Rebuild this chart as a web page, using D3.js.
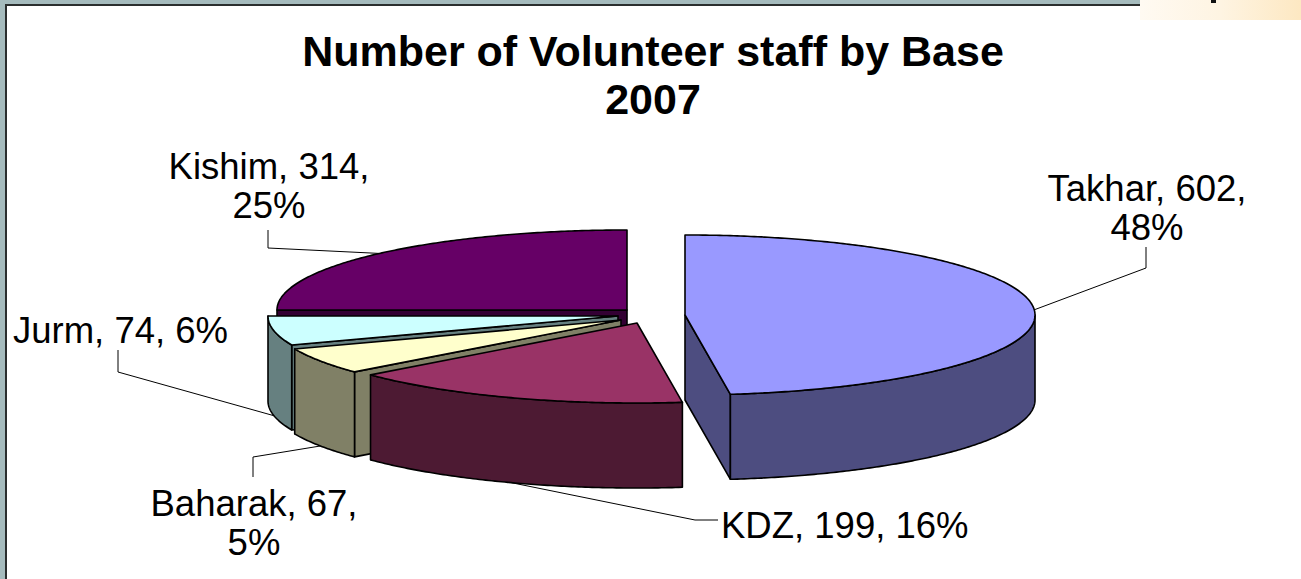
<!DOCTYPE html>
<html><head><meta charset="utf-8">
<script src="https://cdn.jsdelivr.net/npm/d3@7/dist/d3.min.js"></script>
<style>html,body{margin:0;padding:0;background:#fff;overflow:hidden}svg{display:block}text{font-family:"Liberation Sans",Arial,sans-serif;fill:#000}</style>
</head><body><svg id="c" width="1301" height="579"></svg>
<script>
const categories=["Takhar","KDZ","Baharak","Jurm","Kishim"];
const values=[602,199,67,74,314];
const percents=[48,16,5,6,25];
const topColors=["#9999FF","#993366","#FFFFCC","#CCFFFF","#660066"];
const wallColors=["#4D4D80","#4D1A33","#808066","#668080","#330033"];
const titleLines=["Number of Volunteer staff by Base","2007"];

// layout
const rx=350, ry=80, depth=85;
const centers=[[685,315],[637,323],[621,320],[618,316],[627,310]];
const labelLines=[
  [`${categories[0]}, ${values[0]},`,`${percents[0]}%`],
  [`${categories[1]}, ${values[1]}, ${percents[1]}%`],
  [`${categories[2]}, ${values[2]},`,`${percents[2]}%`],
  [`${categories[3]}, ${values[3]}, ${percents[3]}%`],
  [`${categories[4]}, ${values[4]},`,`${percents[4]}%`]];
const labelPos=[[1147,201,"middle"],[721,538,"start"],[254,516,"middle"],[13,343,"start"],[269,179,"middle"]];
const elbows=[[[1146,268],[1146,247]],[[695,520],[718,520]],[[253,457],[253,477]],[[118,372],[118,350]],[[268,248],[268,230]]];
const leaderOnWall=[false,true,true,true,false];

const svg=d3.select("#c");
const defs=svg.append("defs");
const g=defs.append("linearGradient").attr("id","patch");
g.append("stop").attr("offset","0").attr("stop-color","#FFFAF2");
g.append("stop").attr("offset","0.5").attr("stop-color","#FEF4E2");
g.append("stop").attr("offset","1").attr("stop-color","#FDE8C2");

// frame
svg.append("rect").attr("width",1140).attr("height",4).attr("fill","#A5BBBD");
svg.append("rect").attr("width",5).attr("height",579).attr("fill","#A5BBBD");
svg.append("rect").attr("x",5).attr("y",4).attr("width",1135).attr("height",2).attr("fill","#2A2E2E");
svg.append("rect").attr("x",5).attr("y",4).attr("width",2).attr("height",575).attr("fill","#2A2E2E");
svg.append("rect").attr("x",1140).attr("width",161).attr("height",20).attr("fill","url(#patch)");
svg.append("rect").attr("x",1211).attr("width",5).attr("height",3).attr("fill","#111");

const pie=d3.pie().sort(null).value(d=>d).startAngle(0).endAngle(2*Math.PI);
const arcs=pie(values);
const project=(i,a,dz=0)=>[centers[i][0]+rx*Math.sin(a),centers[i][1]-ry*Math.cos(a)+dz];
const line=d3.line();
const sample=(a0,a1)=>{const n=Math.max(2,Math.ceil(Math.abs(a1-a0)/0.01));return d3.range(n+1).map(k=>a0+(a1-a0)*k/n);};
const halfPi=Math.PI/2;

const plot=svg.append("g").attr("stroke","#000").attr("stroke-width",1.6).attr("stroke-linejoin","round");
d3.range(arcs.length-1,-1,-1).forEach(i=>{
  const a=arcs[i], c=centers[i];
  const faces=[];
  if(Math.sin(a.startAngle)<0) faces.push(a.startAngle);
  if(Math.sin(a.endAngle)>0) faces.push(a.endAngle);
  faces.forEach(t=>{
    plot.append("path").attr("fill",wallColors[i]).attr("d",line([
      c,project(i,t),project(i,t,depth),[c[0],c[1]+depth]])+"Z");
  });
  const w0=Math.max(a.startAngle,halfPi), w1=Math.min(a.endAngle,3*halfPi);
  if(w1>w0){
    const top=sample(w0,w1).map(t=>project(i,t));
    const bot=sample(w1,w0).map(t=>project(i,t,depth));
    plot.append("path").attr("fill",wallColors[i]).attr("d",line(top.concat(bot))+"Z");
  }
  plot.append("path").attr("fill",topColors[i]).attr("d",line([c].concat(sample(a.startAngle,a.endAngle).map(t=>project(i,t))))+"Z");
});

// leaders
arcs.forEach((a,i)=>{
  const mid=(a.startAngle+a.endAngle)/2;
  const p=project(i,mid,leaderOnWall[i]?depth:0);
  svg.append("path").attr("fill","none").attr("stroke","#000").attr("stroke-width",1)
    .attr("d",line([p].concat(elbows[i])));
});

// title
svg.append("text").attr("text-anchor","middle").attr("font-weight","bold").attr("font-size",43)
  .selectAll("tspan").data(titleLines).join("tspan").attr("x",653).attr("y",(d,i)=>66+i*48).text(d=>d);

// labels
labelLines.forEach((ls,i)=>{
  const [x,y,anchor]=labelPos[i];
  svg.append("text").attr("text-anchor",anchor).attr("font-size",36.5)
    .selectAll("tspan").data(ls).join("tspan").attr("x",x).attr("y",(d,k)=>y+k*38.5).text(d=>d);
});
</script></body></html>
